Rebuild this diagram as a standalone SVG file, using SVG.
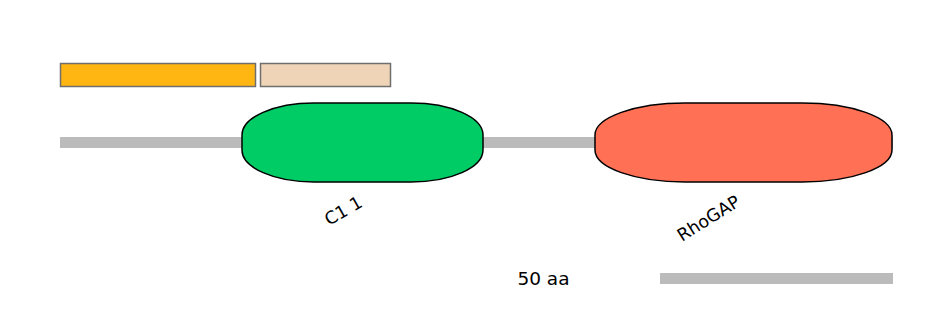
<svg xmlns="http://www.w3.org/2000/svg" width="944" height="330" viewBox="0 0 944 330">
<style>
.bar{fill:#bbbbbb}
.motif{stroke:#6f6f6f;stroke-width:1.5}
.dom{stroke:#000;stroke-width:1.5}
.lbl{font-family:"DejaVu Sans",sans-serif;font-size:17.5px;fill:#000}
</style>
<rect width="944" height="330" fill="#fff"/>
<g id="backbone"><rect class="bar" x="60" y="137" width="833" height="11"/></g>
<g id="motif1"><rect class="motif" x="60.5" y="63.5" width="195" height="23" fill="#ffb612"/></g>
<g id="motif2"><rect class="motif" x="260.5" y="63.5" width="130" height="23" fill="#efd4b7"/></g>
<g id="c1"><rect class="dom" x="242" y="103" width="241" height="79" rx="72" ry="32" fill="#00cc66"/>
<text class="lbl" transform="translate(329,226) rotate(-30)">C1 1</text></g>
<g id="rhogap"><rect class="dom" x="595" y="103" width="297" height="79" rx="90" ry="32" fill="#ff7055"/>
<text class="lbl" transform="translate(682,242) rotate(-32)">RhoGAP</text></g>
<g id="scale"><text class="lbl" x="543.5" y="285" text-anchor="middle" style="font-size:18.5px">50 aa</text>
<rect class="bar" x="660" y="273" width="233" height="11"/></g>
<g id="connectors"></g>
</svg>
